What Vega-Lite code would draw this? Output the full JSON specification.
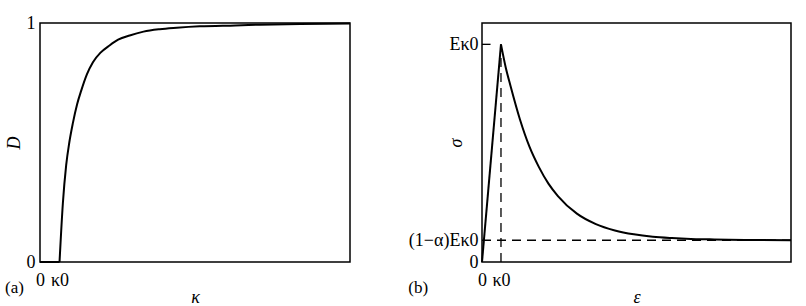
{
  "$schema": "https://vega.github.io/schema/vega-lite/v6.json",
  "padding": {"left": 4, "top": 13, "right": 5, "bottom": 0},
  "spacing": 52,
  "config": {
    "view": {"stroke": "black", "strokeWidth": 1.5},
    "font": "Liberation Serif",
    "axis": {
      "labelFont": "Liberation Serif", "labelFontSize": 18, "labelColor": "black",
      "titleFont": "Liberation Serif", "titleFontSize": 18, "titleFontStyle": "italic",
      "titleFontWeight": "normal", "titleColor": "black",
      "grid": false, "ticks": false, "domain": false, "labelFlush": false
    },
    "title": {"font": "Liberation Serif", "fontSize": 17, "fontWeight": "normal", "color": "black"}
  },
  "datasets": {
    "damage": [
      {"k": 1.0, "D": 0.0},
      {"k": 1.17, "D": 0.245},
      {"k": 1.34, "D": 0.405},
      {"k": 1.5, "D": 0.5},
      {"k": 1.68, "D": 0.58},
      {"k": 1.9, "D": 0.66},
      {"k": 2.11, "D": 0.717},
      {"k": 2.4, "D": 0.785},
      {"k": 2.71, "D": 0.836},
      {"k": 3.1, "D": 0.876},
      {"k": 3.56, "D": 0.906},
      {"k": 4.0, "D": 0.93},
      {"k": 4.59, "D": 0.948},
      {"k": 5.3, "D": 0.964},
      {"k": 6.13, "D": 0.974},
      {"k": 7.0, "D": 0.98},
      {"k": 8.18, "D": 0.986},
      {"k": 10.0, "D": 0.99},
      {"k": 11.26, "D": 0.993},
      {"k": 13.31, "D": 0.996},
      {"k": 15.87, "D": 0.998}
    ],
    "floor": [
      {"k": 0, "D": 0},
      {"k": 1.0, "D": 0}
    ],
    "stress": [
      {"part": "rise", "e": 0, "s": 0},
      {"part": "rise", "e": 1, "s": 1},
      {"part": "decay", "e": 1, "s": 1},
      {"part": "decay", "e": 1.25, "s": 0.894},
      {"part": "decay", "e": 1.5, "s": 0.81},
      {"part": "decay", "e": 2, "s": 0.655},
      {"part": "decay", "e": 2.5, "s": 0.53},
      {"part": "decay", "e": 3, "s": 0.436},
      {"part": "decay", "e": 3.5, "s": 0.36},
      {"part": "decay", "e": 4, "s": 0.303},
      {"part": "decay", "e": 5, "s": 0.222},
      {"part": "decay", "e": 6, "s": 0.174},
      {"part": "decay", "e": 7, "s": 0.145},
      {"part": "decay", "e": 8, "s": 0.127},
      {"part": "decay", "e": 9, "s": 0.116},
      {"part": "decay", "e": 10, "s": 0.11},
      {"part": "decay", "e": 11, "s": 0.106},
      {"part": "decay", "e": 12, "s": 0.104},
      {"part": "decay", "e": 13, "s": 0.102},
      {"part": "decay", "e": 14, "s": 0.101},
      {"part": "decay", "e": 16.28, "s": 0.1}
    ],
    "dashes": [
      {"e1": 1, "e2": 1, "s1": 0, "s2": 1},
      {"e1": 0, "e2": 16.28, "s1": 0.1, "s2": 0.1}
    ],
    "tick": [
      {"e1": 0, "e2": 0.45, "s1": 1, "s2": 1}
    ]
  },
  "hconcat": [
    {
      "width": 310,
      "height": 239,
      "title": {"text": "(a)", "orient": "bottom", "anchor": "start", "frame": "bounds", "offset": -26},
      "encoding": {
        "x": {
          "field": "k", "type": "quantitative",
          "scale": {"domain": [0, 15.87], "nice": false},
          "axis": {"values": [0, 1], "labelExpr": "datum.value == 0 ? '0' : 'κ0'", "title": "κ",
                   "labelPadding": 9, "minExtent": 24, "maxExtent": 24, "titlePadding": 2}
        },
        "y": {
          "field": "D", "type": "quantitative",
          "scale": {"domain": [0, 1], "nice": false},
          "axis": {"values": [0, 1], "labelExpr": "datum.value == 0 ? '0' : '1'", "title": "D",
                   "labelPadding": 5, "minExtent": 12, "maxExtent": 12, "titlePadding": 5}
        }
      },
      "layer": [
        {"data": {"name": "floor"}, "mark": {"type": "line", "color": "black", "strokeWidth": 2}},
        {"data": {"name": "damage"}, "mark": {"type": "line", "color": "black", "strokeWidth": 2, "interpolate": "monotone"}}
      ]
    },
    {
      "width": 309,
      "height": 239,
      "title": {"text": "(b)", "orient": "bottom", "anchor": "start", "frame": "bounds", "offset": -26},
      "layer": [
        {
          "data": {"name": "dashes"},
          "mark": {"type": "rule", "color": "black", "strokeWidth": 1.3, "strokeDash": [9, 6]},
          "encoding": {
            "x": {"field": "e1", "type": "quantitative"},
            "x2": {"field": "e2"},
            "y": {"field": "s1", "type": "quantitative"},
            "y2": {"field": "s2"}
          }
        },
        {
          "data": {"name": "tick"},
          "mark": {"type": "rule", "color": "black", "strokeWidth": 1.3},
          "encoding": {
            "x": {"field": "e1", "type": "quantitative"},
            "x2": {"field": "e2"},
            "y": {"field": "s1", "type": "quantitative"},
            "y2": {"field": "s2"}
          }
        },
        {
          "data": {"name": "stress"},
          "mark": {"type": "line", "color": "black", "strokeWidth": 2, "interpolate": "monotone"},
          "encoding": {
            "x": {"field": "e", "type": "quantitative"},
            "y": {"field": "s", "type": "quantitative"},
            "detail": {"field": "part"}
          }
        }
      ],
      "resolve": {"scale": {"x": "shared", "y": "shared"}},
      "encoding": {
        "x": {
          "type": "quantitative",
          "scale": {"domain": [0, 16.28], "nice": false},
          "axis": {"values": [0, 1], "labelExpr": "datum.value == 0 ? '0' : 'κ0'", "title": "ε",
                   "labelPadding": 9, "minExtent": 24, "maxExtent": 24, "titlePadding": 2}
        },
        "y": {
          "type": "quantitative",
          "scale": {"domain": [0, 1.098], "nice": false},
          "axis": {"values": [0, 0.1, 1], "labelExpr": "datum.value == 0 ? '0' : (datum.value < 0.5 ? '(1−α)Eκ0' : 'Eκ0')", "title": "σ",
                   "labelPadding": 4, "minExtent": 13, "maxExtent": 13, "titlePadding": 4}
        }
      }
    }
  ]
}
